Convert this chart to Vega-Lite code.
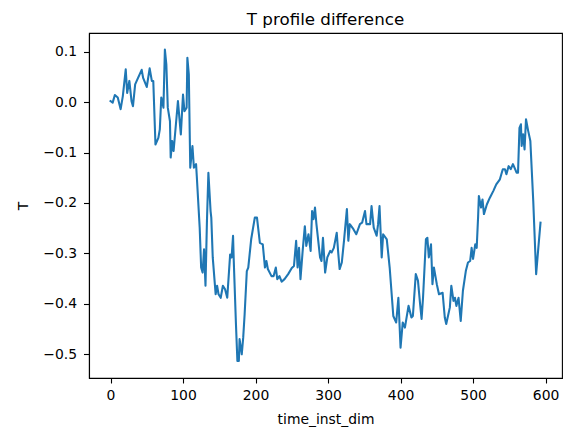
{
  "$schema": "https://vega.github.io/schema/vega-lite/v6.json",
  "width": 473,
  "height": 345,
  "autosize": {"type": "none"},
  "padding": {"left": 89, "top": 33, "right": 4, "bottom": 51},
  "background": "white",
  "title": {"text": "T profile difference", "font": "DejaVu Sans", "fontSize": 16.7, "fontWeight": "normal", "color": "black", "anchor": "middle", "baseline": "alphabetic", "offset": 8.5, "dy": 17.5},
  "config": {"view": {"stroke": "black", "strokeWidth": 1.1}},
  "data": {"values": [
    {"t":0,"v":0.002},{"t":3,"v":-0.001},{"t":6,"v":0.014},{"t":10,"v":0.009},{"t":14,"v":-0.014},{"t":17,"v":0.012},{"t":21,"v":0.065},{"t":23,"v":0.018},{"t":26,"v":0.042},{"t":29,"v":0.002},{"t":31,"v":-0.008},{"t":34,"v":0.035},{"t":38,"v":0.048},{"t":43,"v":0.064},{"t":45,"v":0.048},{"t":50,"v":0.030},{"t":54,"v":0.067},{"t":57,"v":0.042},{"t":59,"v":0.042},{"t":62,"v":-0.084},{"t":66,"v":-0.071},{"t":68,"v":-0.054},{"t":70,"v":0.009},{"t":73,"v":-0.011},{"t":75,"v":0.104},{"t":77,"v":0.075},{"t":79,"v":-0.011},{"t":82,"v":-0.038},{"t":83,"v":-0.110},{"t":85,"v":-0.077},{"t":87,"v":-0.097},{"t":91,"v":-0.031},{"t":93,"v":0.002},{"t":97,"v":-0.064},{"t":100,"v":0.015},{"t":102,"v":-0.018},{"t":105,"v":-0.011},{"t":106,"v":0.088},{"t":108,"v":0.055},{"t":110,"v":-0.130},{"t":113,"v":-0.087},{"t":115,"v":-0.130},{"t":118,"v":-0.123},{"t":119,"v":-0.147},
    {"t":123,"v":-0.249},{"t":125,"v":-0.328},{"t":127,"v":-0.338},{"t":129,"v":-0.292},{"t":131,"v":-0.364},{"t":133,"v":-0.236},{"t":135,"v":-0.140},{"t":138,"v":-0.216},{"t":139,"v":-0.229},{"t":141,"v":-0.308},{"t":145,"v":-0.381},{"t":147,"v":-0.364},{"t":149,"v":-0.381},{"t":152,"v":-0.388},{"t":155,"v":-0.364},{"t":158,"v":-0.371},{"t":161,"v":-0.388},{"t":165,"v":-0.302},{"t":167,"v":-0.308},{"t":169,"v":-0.265},{"t":170,"v":-0.315},{"t":173,"v":-0.440},{"t":175,"v":-0.513},{"t":177,"v":-0.513},{"t":178,"v":-0.470},{"t":181,"v":-0.500},{"t":183,"v":-0.467},{"t":185,"v":-0.420},{"t":188,"v":-0.335},{"t":190,"v":-0.328},{"t":194,"v":-0.272},{"t":199,"v":-0.229},{"t":202,"v":-0.229},{"t":206,"v":-0.279},{"t":210,"v":-0.282},{"t":213,"v":-0.328},{"t":215,"v":-0.315},{"t":217,"v":-0.331},{"t":222,"v":-0.345},{"t":225,"v":-0.345},{"t":228,"v":-0.328},{"t":230,"v":-0.351},{"t":233,"v":-0.345},{"t":236,"v":-0.356},{"t":240,"v":-0.351},{"t":245,"v":-0.341},{"t":250,"v":-0.329},{"t":253,"v":-0.325},{"t":256,"v":-0.275},{"t":258,"v":-0.328},{"t":260,"v":-0.289},{"t":262,"v":-0.351},{"t":265,"v":-0.295},{"t":268,"v":-0.246},{"t":270,"v":-0.285},{"t":273,"v":-0.262},{"t":276,"v":-0.295},{"t":278,"v":-0.216},{"t":280,"v":-0.232},{"t":282,"v":-0.209},{"t":284,"v":-0.242},{"t":289,"v":-0.308},{"t":291,"v":-0.315},{"t":293,"v":-0.269},{"t":296,"v":-0.338},{"t":299,"v":-0.308},
    {"t":303,"v":-0.295},{"t":305,"v":-0.298},{"t":308,"v":-0.289},{"t":312,"v":-0.259},{"t":314,"v":-0.298},{"t":316,"v":-0.331},{"t":319,"v":-0.318},{"t":322,"v":-0.275},{"t":326,"v":-0.212},{"t":328,"v":-0.275},{"t":330,"v":-0.242},{"t":335,"v":-0.252},{"t":339,"v":-0.262},{"t":344,"v":-0.242},{"t":347,"v":-0.239},{"t":351,"v":-0.216},{"t":353,"v":-0.242},{"t":358,"v":-0.242},{"t":360,"v":-0.206},{"t":363,"v":-0.249},{"t":367,"v":-0.265},{"t":369,"v":-0.242},{"t":371,"v":-0.206},{"t":374,"v":-0.308},{"t":376,"v":-0.262},{"t":381,"v":-0.272},{"t":385,"v":-0.328},{"t":390,"v":-0.424},{"t":394,"v":-0.437},{"t":397,"v":-0.388},{"t":400,"v":-0.487},{"t":403,"v":-0.437},{"t":406,"v":-0.447},{"t":411,"v":-0.404},{"t":415,"v":-0.427},{"t":417,"v":-0.424},{"t":421,"v":-0.341},{"t":424,"v":-0.354},{"t":427,"v":-0.401},{"t":429,"v":-0.430},{"t":431,"v":-0.388},{"t":435,"v":-0.272},{"t":437,"v":-0.269},{"t":439,"v":-0.308},{"t":442,"v":-0.282},{"t":444,"v":-0.361},{"t":446,"v":-0.328},{"t":450,"v":-0.361},{"t":453,"v":-0.381},{"t":458,"v":-0.378},{"t":461,"v":-0.427},{"t":463,"v":-0.440},{"t":468,"v":-0.407},{"t":470,"v":-0.364},{"t":473,"v":-0.394},{"t":475,"v":-0.388},{"t":477,"v":-0.404},{"t":480,"v":-0.388},{"t":483,"v":-0.434},{"t":486,"v":-0.374},{"t":490,"v":-0.335},{"t":493,"v":-0.318},{"t":496,"v":-0.315},{"t":498,"v":-0.289},
    {"t":500,"v":-0.311},{"t":503,"v":-0.282},{"t":505,"v":-0.289},{"t":507,"v":-0.226},{"t":508,"v":-0.186},{"t":511,"v":-0.209},{"t":513,"v":-0.193},{"t":515,"v":-0.222},{"t":519,"v":-0.203},{"t":523,"v":-0.190},{"t":528,"v":-0.176},{"t":532,"v":-0.163},{"t":537,"v":-0.153},{"t":541,"v":-0.133},{"t":544,"v":-0.133},{"t":546,"v":-0.143},{"t":549,"v":-0.127},{"t":552,"v":-0.133},{"t":555,"v":-0.123},{"t":558,"v":-0.133},{"t":560,"v":-0.140},{"t":562,"v":-0.140},{"t":564,"v":-0.051},{"t":566,"v":-0.044},{"t":567,"v":-0.087},{"t":569,"v":-0.064},{"t":571,"v":-0.094},{"t":573,"v":-0.034},{"t":576,"v":-0.057},{"t":579,"v":-0.077},{"t":583,"v":-0.196},{"t":587,"v":-0.341},{"t":590,"v":-0.289},{"t":593,"v":-0.239}
  ]},
  "mark": {"type": "line", "color": "#1f77b4", "strokeWidth": 2.08, "clip": true, "strokeJoin": "round", "strokeCap": "square"},
  "encoding": {
    "x": {
      "field": "t", "type": "quantitative",
      "scale": {"domain": [-29.65, 622.65], "nice": false, "zero": false},
      "axis": {
        "values": [0, 100, 200, 300, 400, 500, 600],
        "title": "time_inst_dim",
        "grid": false,
        "tickSize": 5, "tickWidth": 1.1, "tickColor": "black",
        "domainColor": "black", "domainWidth": 1.1,
        "labelFont": "DejaVu Sans", "labelFontSize": 13.9, "labelColor": "black", "labelPadding": 5,
        "labelFlush": false, "labelOverlap": false,
        "titleFont": "DejaVu Sans", "titleFontSize": 13.9, "titleFontWeight": "normal", "titleColor": "black",
        "titleBaseline": "alphabetic", "titleY": 45, "titleX": 236.5, "titleAlign": "center"
      }
    },
    "y": {
      "field": "v", "type": "quantitative",
      "scale": {"domain": [-0.547, 0.137], "nice": false, "zero": false},
      "axis": {
        "values": [-0.5, -0.4, -0.3, -0.2, -0.1, 0.0, 0.1],
        "labelExpr": "replace(format(datum.value, '.1f'), '-', '\u2212')",
        "title": "T",
        "grid": false,
        "tickSize": 5.5, "tickWidth": 1.1, "tickColor": "black",
        "domainColor": "black", "domainWidth": 1.1,
        "labelFont": "DejaVu Sans", "labelFontSize": 13.9, "labelColor": "black", "labelPadding": 7,
        "labelFlush": false, "labelOverlap": false, "labelBaseline": "middle",
        "titleFont": "DejaVu Sans", "titleFontSize": 13.9, "titleFontWeight": "normal", "titleColor": "black",
        "titleAngle": -90, "titleBaseline": "middle", "titleAlign": "center", "titleX": -65.5, "titleY": 172.5
      }
    }
  }
}
